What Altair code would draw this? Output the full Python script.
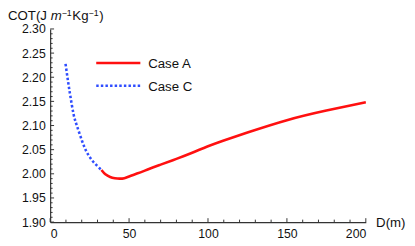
import altair as alt
import pandas as pd

# Case A (solid red)
a_x = [32.5, 35, 38, 41, 44, 47, 50, 55, 60, 65, 70, 80, 90, 100, 110, 125, 150, 175, 200]
a_y = [2.008, 1.999, 1.9935, 1.991, 1.990, 1.991, 1.9945, 2.0005, 2.0067, 2.013, 2.019,
       2.031, 2.0437, 2.057, 2.069, 2.0855, 2.111, 2.131, 2.148]
# Case C (dotted blue)
c_x = [9.75, 11.4, 12.9, 14.9, 17.0, 20.1, 23.2, 27.3, 31.5, 32.5]
c_y = [2.2276, 2.190, 2.159, 2.1225, 2.099, 2.069, 2.045, 2.025, 2.011, 2.008]

x_ticks_major = [0, 50, 100, 150, 200]
x_ticks_minor = [v for v in range(0, 201, 10) if v % 50 != 0]
y_ticks_major = [1.90, 1.95, 2.00, 2.05, 2.10, 2.15, 2.20, 2.25, 2.30]
y_ticks_minor = [round(1.90 + 0.01 * i, 2) for i in range(41) if i % 5 != 0]

legend_labels = ["Case A", "Case C"]
legend_colors = ["#ff1010", "#2f4dff"]

# y-axis title pieces: text, style, superscript?
title_parts = ["COT(J ", "m", "−1", "Kg", "−1", ")"]
title_italic = [False, True, False, False, False, False]
title_sup = [False, False, True, False, True, False]
x_title = "D(m)"

W, H = 322, 197
TOP = 19
FONT = "Liberation Sans"

xs = alt.Scale(domain=[0, 200], nice=False, zero=False)
ys = alt.Scale(domain=[1.90, 2.30], nice=False, zero=False)

x_axis = alt.Axis(
    values=x_ticks_major, format="d", ticks=False, tickSize=0, grid=False, labelOverlap=False,
    domainColor="#333333", domainWidth=1.2, labelColor="#111111", labelFontSize=12.5,
    labelFont=FONT, labelPadding=6,
    title=x_title, titleFont=FONT, titleFontSize=13.5, titleFontWeight="normal",
    titleColor="#111111", titleAngle=0, titleAlign="left", titleBaseline="middle",
    titleX=W + 10, titleY=1)
y_axis = alt.Axis(
    values=y_ticks_major, tickCount=9, format=".2f", ticks=False, tickSize=0, grid=False,
    labelOverlap=False, domainColor="#333333", domainWidth=1.2, labelColor="#111111",
    labelFontSize=12.5, labelFont=FONT, labelPadding=5, title=None)


def X(field):
    return alt.X(f"{field}:Q", scale=xs, axis=x_axis)


def Y(field):
    return alt.Y(f"{field}:Q", scale=ys, axis=y_axis)


df_a = pd.DataFrame({"x": a_x, "y": a_y})
df_c = pd.DataFrame({"x": c_x, "y": c_y})

line_a = alt.Chart(df_a).mark_line(color=legend_colors[0], strokeWidth=2.6,
                                   interpolate="natural").encode(x=X("x"), y=Y("y"))
line_c = alt.Chart(df_c).mark_line(color=legend_colors[1], strokeWidth=2.6, strokeDash=[2.5, 2.2],
                                   interpolate="natural").encode(x=X("x"), y=Y("y"))

# inward ticks
xt_maj = alt.Chart(pd.DataFrame({"x": x_ticks_major})).mark_rule(color="#333333", strokeWidth=1).encode(
    x=X("x"), y=alt.value(H), y2=alt.value(H - 4))
xt_min = alt.Chart(pd.DataFrame({"x": x_ticks_minor})).mark_rule(color="#333333", strokeWidth=1).encode(
    x=X("x"), y=alt.value(H), y2=alt.value(H - 2.5))
yt_maj = alt.Chart(pd.DataFrame({"y": y_ticks_major})).mark_rule(color="#333333", strokeWidth=1).encode(
    y=Y("y"), x=alt.value(0), x2=alt.value(4))
yt_min = alt.Chart(pd.DataFrame({"y": y_ticks_minor})).mark_rule(color="#333333", strokeWidth=1).encode(
    y=Y("y"), x=alt.value(0), x2=alt.value(2.5))

# legend (page rows at y ~62 and ~86)
leg_a = alt.Chart(pd.DataFrame({"l": [legend_labels[0]]})).mark_rule(
    color=legend_colors[0], strokeWidth=2.6).encode(x=alt.value(47), x2=alt.value(92), y=alt.value(61.7 - 8 - TOP))
leg_c = alt.Chart(pd.DataFrame({"l": [legend_labels[1]]})).mark_rule(
    color=legend_colors[1], strokeWidth=2.6, strokeDash=[2.5, 2.2]).encode(
    x=alt.value(47), x2=alt.value(92), y=alt.value(85 - 8 - TOP))
txt_a = alt.Chart(pd.DataFrame({"l": [legend_labels[0]]})).mark_text(
    align="left", baseline="middle", font=FONT, fontSize=13.5, color="#111111").encode(
    x=alt.value(100), y=alt.value(62.5 - 8 - TOP), text="l:N")
txt_c = alt.Chart(pd.DataFrame({"l": [legend_labels[1]]})).mark_text(
    align="left", baseline="middle", font=FONT, fontSize=13.5, color="#111111").encode(
    x=alt.value(100), y=alt.value(86 - 8 - TOP), text="l:N")

# y-axis title with italic m and superscripts, laid out piece by piece
title_layers = []
cx = -43.0
base_line = 18.2 - 8 - TOP
em = {"C": .722, "O": .778, "T": .611, "(": .333, "J": .5, " ": .278, "m": .833,
      "−": .584, "1": .556, "K": .667, "g": .556, ")": .333}
for t, it, sp in zip(title_parts, title_italic, title_sup):
    fs = 9 if sp else 13.5
    yy = base_line - 4.0 if sp else base_line
    title_layers.append(
        alt.Chart(pd.DataFrame({"t": [t]})).mark_text(
            align="left", baseline="alphabetic", font=FONT, fontSize=fs,
            fontStyle="italic" if it else "normal", color="#111111").encode(
            x=alt.value(cx), y=alt.value(yy), text="t:N"))
    cx += sum(em.get(ch, .556) for ch in t) * fs + (0.6 if sp else 0)

chart = alt.layer(line_a, line_c, xt_maj, xt_min, yt_maj, yt_min, leg_a, leg_c, txt_a, txt_c,
                  *title_layers).properties(
    width=W, height=H,
    autosize=alt.AutoSizeParams(type="none"),
    padding={"left": 43, "top": TOP, "right": 42, "bottom": 22},
    background="white",
).configure_view(stroke=None)

chart.save("out.html", embed_options={"renderer": "svg", "actions": False})
